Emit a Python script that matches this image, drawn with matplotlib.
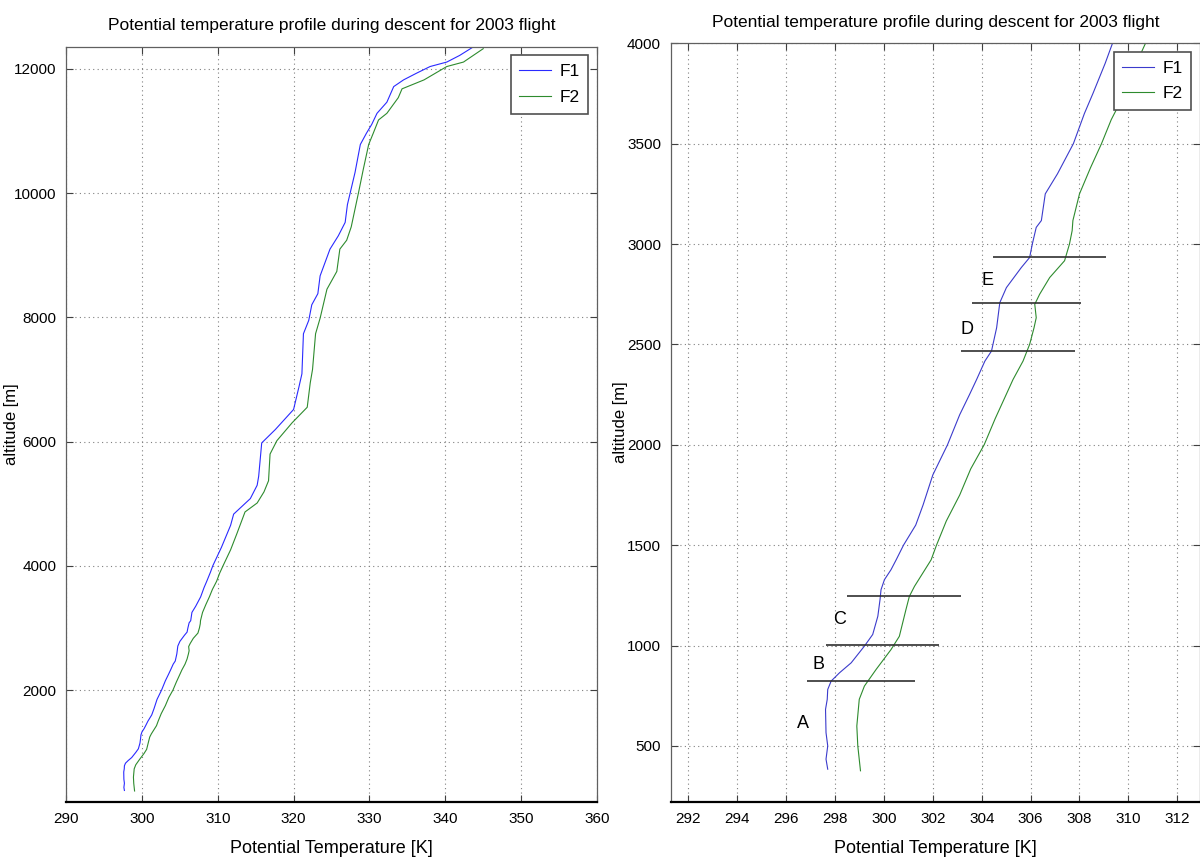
import matplotlib.pyplot as plt
import numpy as np

plt.rcParams["font.family"] = ["Liberation Sans Narrow", "Liberation Sans", "DejaVu Sans"]

TITLE = "Potential temperature profile during descent for 2003 flight"

# F1 profile (altitude [m], potential temperature [K])
F1_ALT = [384, 434, 500, 566, 682, 732, 781, 823, 864, 914, 997, 1055, 1146, 1229,
          1278, 1328, 1378, 1427, 1500, 1600, 1700, 1850, 2000, 2150, 2250, 2325,
          2417, 2467, 2583, 2708, 2783, 2883, 2933, 3000, 3083, 3117, 3250, 3350,
          3500, 3650, 3750, 3900, 4000, 4300,
          4652, 4832, 5082, 5297, 5441, 5978, 6194, 6516, 6875, 7090, 7735, 7950,
          8201, 8380, 8667, 9097, 9312, 9527, 9814, 10330, 10781, 10961, 11104,
          11283, 11462, 11713, 11821, 11928, 12036, 12108, 12215, 12337]
F1_THETA = [297.70, 297.63, 297.70, 297.63, 297.61, 297.68, 297.70, 297.84, 298.18,
            298.66, 299.20, 299.54, 299.75, 299.84, 299.88, 300.02, 300.29, 300.50,
            300.80, 301.30, 301.60, 302.00, 302.60, 303.10, 303.50, 303.79, 304.13,
            304.40, 304.61, 304.74, 305.01, 305.62, 305.96, 306.07, 306.23, 306.44,
            306.60, 307.10, 307.75, 308.20, 308.55, 309.05, 309.35, 310.50,
            311.7, 312.1, 314.3, 315.2, 315.4, 315.8, 317.6, 320.0,
            320.7, 321.1, 321.3, 322.0, 322.4, 323.2, 323.5, 324.8, 325.9, 326.8,
            327.1, 328.1, 328.8, 329.6, 330.3, 331.0, 332.3, 333.2, 334.5, 336.2,
            338.0, 340.2, 341.9, 343.5]

# F2 profile
F2_ALT = [376, 500, 599, 732, 798, 881, 980, 1046, 1179, 1245, 1295, 1361, 1427,
          1500, 1620, 1750, 1880, 2000, 2130, 2250, 2325, 2417, 2500, 2583, 2633,
          2700, 2750, 2833, 2917, 3000, 3067, 3117, 3250, 3380, 3500, 3620, 3750,
          3880, 4000, 4258, 4509, 4867, 5011,
          5190, 5369, 5799, 6014, 6301, 6552, 6946, 7161, 7735, 7986, 8452, 8738,
          9097, 9240, 9455, 10029, 10387, 10781, 10961, 11176, 11283, 11534, 11677,
          11821, 12036, 12108, 12323]
F2_THETA = [299.04, 298.93, 298.89, 298.99, 299.20, 299.68, 300.29, 300.63, 300.90,
            301.04, 301.25, 301.59, 301.93, 302.15, 302.55, 303.10, 303.55, 304.10,
            304.55, 305.00, 305.28, 305.69, 305.96, 306.14, 306.23, 306.17, 306.37,
            306.78, 307.39, 307.59, 307.70, 307.73, 308.00, 308.45, 308.90, 309.30,
            309.85, 310.25, 310.70, 311.7, 312.5, 313.6, 315.2,
            316.1, 316.7, 316.9, 317.8, 319.8, 321.8, 322.2, 322.5, 322.9,
            323.5, 324.4, 325.7, 326.1, 327.0, 327.6, 328.6, 329.2, 329.9, 330.5,
            331.2, 332.3, 333.8, 334.3, 337.2, 340.2, 342.4, 345.0]

# layer boundaries marked on the zoomed panel
LAYER_ALT = [821, 1005, 1245, 2467, 2708, 2933]
LAYER_X0 = [296.84, 297.61, 298.49, 303.15, 303.59, 304.47]
LAYER_X1 = [301.25, 302.27, 303.15, 307.82, 308.07, 309.08]
LAYER_NAMES = ["A", "B", "C", "D", "E"]
LAYER_LABEL_X = [296.68, 297.31, 298.20, 303.38, 304.22]
LAYER_LABEL_ALT = [613, 908, 1131, 2575, 2820]

BLUE = "#2a2aff"
GREEN = "#2e8b2e"


def style_axes(ax, ylabel_x):
    ax.grid(True, linestyle=(0, (1, 3)), color="#808080", linewidth=0.8)
    ax.tick_params(direction="in", top=True, right=True, length=5,
                   labelsize=11, color="#404040", pad=7)
    for side in ("left", "right", "top"):
        ax.spines[side].set_color("#606060")
        ax.spines[side].set_linewidth(0.9)
    ax.spines["bottom"].set_linewidth(1.6)
    ax.set_xlabel("Potential Temperature [K]", fontsize=13, labelpad=10)
    ax.set_ylabel("altitude [m]", fontsize=12, family=["Liberation Sans", "DejaVu Sans"])
    ax.yaxis.set_label_coords(ylabel_x, 0.5)
    ax.set_title(TITLE, fontsize=12.5, pad=12)
    leg = ax.legend(loc="upper right", fontsize=12.5, handlelength=1.8,
                    borderaxespad=0.5, fancybox=False, framealpha=1,
                    edgecolor="#505050", borderpad=0.5, labelspacing=0.6,
                    handletextpad=0.5)
    leg.get_frame().set_linewidth(1.2)


fig = plt.figure(figsize=(12, 8.66), dpi=100)
ax1 = fig.add_axes([0.055, 0.074, 0.4425, 0.872])
ax2 = fig.add_axes([0.559, 0.074, 0.441, 0.876])

ax1.plot(F1_THETA, F1_ALT, color=BLUE, linewidth=0.8, label="F1")
ax1.plot(F2_THETA, F2_ALT, color=GREEN, linewidth=0.8, label="F2")
ax1.set_xlim(290, 360)
ax1.set_ylim(200, 12354)
ax1.set_xticks(np.arange(290, 361, 10))
ax1.set_yticks(np.arange(2000, 12001, 2000))
style_axes(ax1, -0.088)

ax2.plot(F1_THETA, F1_ALT, color="#3b3bcc", linewidth=0.8, label="F1")
ax2.plot(F2_THETA, F2_ALT, color=GREEN, linewidth=0.8, label="F2")
ax2.hlines(LAYER_ALT, LAYER_X0, LAYER_X1, color="#303030", linewidth=1.2)
for name, x, y in zip(LAYER_NAMES, LAYER_LABEL_X, LAYER_LABEL_ALT):
    ax2.text(x, y, name, fontsize=13, ha="center", va="center")
ax2.set_xlim(291.28, 312.93)
ax2.set_ylim(221, 4000)
ax2.set_xticks(np.arange(292, 313, 2))
ax2.set_yticks(np.arange(500, 4001, 500))
style_axes(ax2, -0.08)

fig.savefig("out.png", dpi=100)
